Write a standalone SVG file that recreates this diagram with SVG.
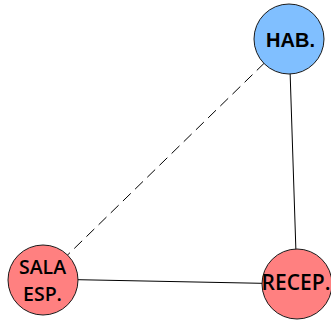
<svg xmlns="http://www.w3.org/2000/svg" width="331" height="320" viewBox="0 0 331 320">
<style>
.edge{stroke:#000;stroke-width:1;fill:none}
.dash{stroke-dasharray:11,6}
.node{stroke:#1a1a1a;stroke-width:1}
.blue{fill:#80bfff}
.pink{fill:#ff8080}
.lbl{fill:#000;text-anchor:middle;font-family:"Open Sans","Liberation Sans",sans-serif;font-weight:600}
.lblA{fill:#000;text-anchor:middle;font-family:"Liberation Sans",Arial,sans-serif;font-weight:bold}
</style>
<rect width="331" height="320" fill="#fff"/>
<g id="connectors">
<line class="edge" x1="289" y1="39" x2="297" y2="284"/>
<line class="edge dash" x1="289" y1="39" x2="43" y2="279"/>
<line class="edge" x1="43" y1="279" x2="297" y2="284"/>
</g>
<g id="hab">
<circle class="node blue" cx="289" cy="39" r="35"/>
<text class="lblA" x="290.5" y="46.5" font-size="20">HAB.</text>
</g>
<g id="sala">
<circle class="node pink" cx="43" cy="280" r="35"/>
<text class="lbl" x="42.5" y="273.5" font-size="19.5">SALA</text>
<text class="lbl" x="42.5" y="300.5" font-size="19.5">ESP.</text>
</g>
<g id="recep">
<circle class="node pink" cx="297" cy="284" r="35"/>
<text class="lbl" x="296" y="289.5" font-size="21">RECEP.</text>
</g>
</svg>
